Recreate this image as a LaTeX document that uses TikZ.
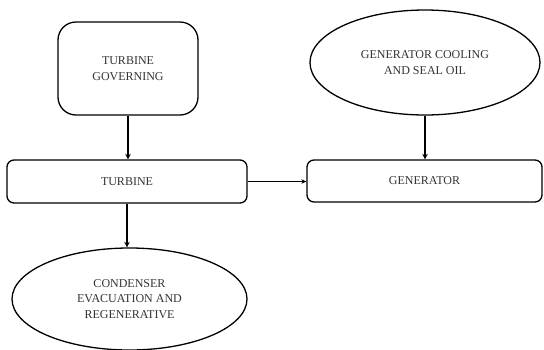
\documentclass[tikz,border=0pt]{standalone}
\usepackage{fontspec}
\setmainfont{Liberation Serif}
\newfontfamily\tnr{Liberation Serif}
\usetikzlibrary{shapes.geometric,arrows.meta}
\definecolor{txt}{HTML}{333333}
\begin{document}
\begin{tikzpicture}[x=1pt,y=-1pt,
  every node/.style={font=\tnr\fontsize{12}{15.5}\selectfont, text=txt, align=center, inner sep=0pt},
  rbox/.style={draw=black, line width=1.3pt, rectangle},
  oval/.style={draw=black, line width=1.3pt, ellipse},
  conn/.style={line width=1.3pt, -{Stealth[length=5.5pt,width=5.5pt]}},
  thinconn/.style={line width=0.9pt, -{Stealth[length=5pt,width=4.5pt]}}]
\useasboundingbox (0,0) rectangle (544,349);
\node[rbox, rounded corners=18pt, minimum width=140pt, minimum height=93pt] (gov) at (128,68.5) {TURBINE\\GOVERNING};
\node[oval, minimum width=230pt, minimum height=105pt] (cool) at (425,62.5) {GENERATOR COOLING\\AND SEAL OIL};
\node[rbox, rounded corners=7pt, minimum width=240pt, minimum height=43pt] (tur) at (127,181.5) {TURBINE};
\node[rbox, rounded corners=7pt, minimum width=235pt, minimum height=42pt] (gen) at (424.5,181) {GENERATOR};
\node[oval, minimum width=235pt, minimum height=102pt] (cond) at (129.5,299) {CONDENSER\\EVACUATION AND\\REGENERATIVE};
\draw[conn] (gov.south) -- (gov.south |- tur.north);
\draw[conn] (cool.south) -- (cool.south |- gen.north);
\draw[thinconn] (tur.east) -- (tur.east -| gen.west);
\draw[conn] (tur.south) -- (tur.south |- cond.north);
\end{tikzpicture}
\end{document}
